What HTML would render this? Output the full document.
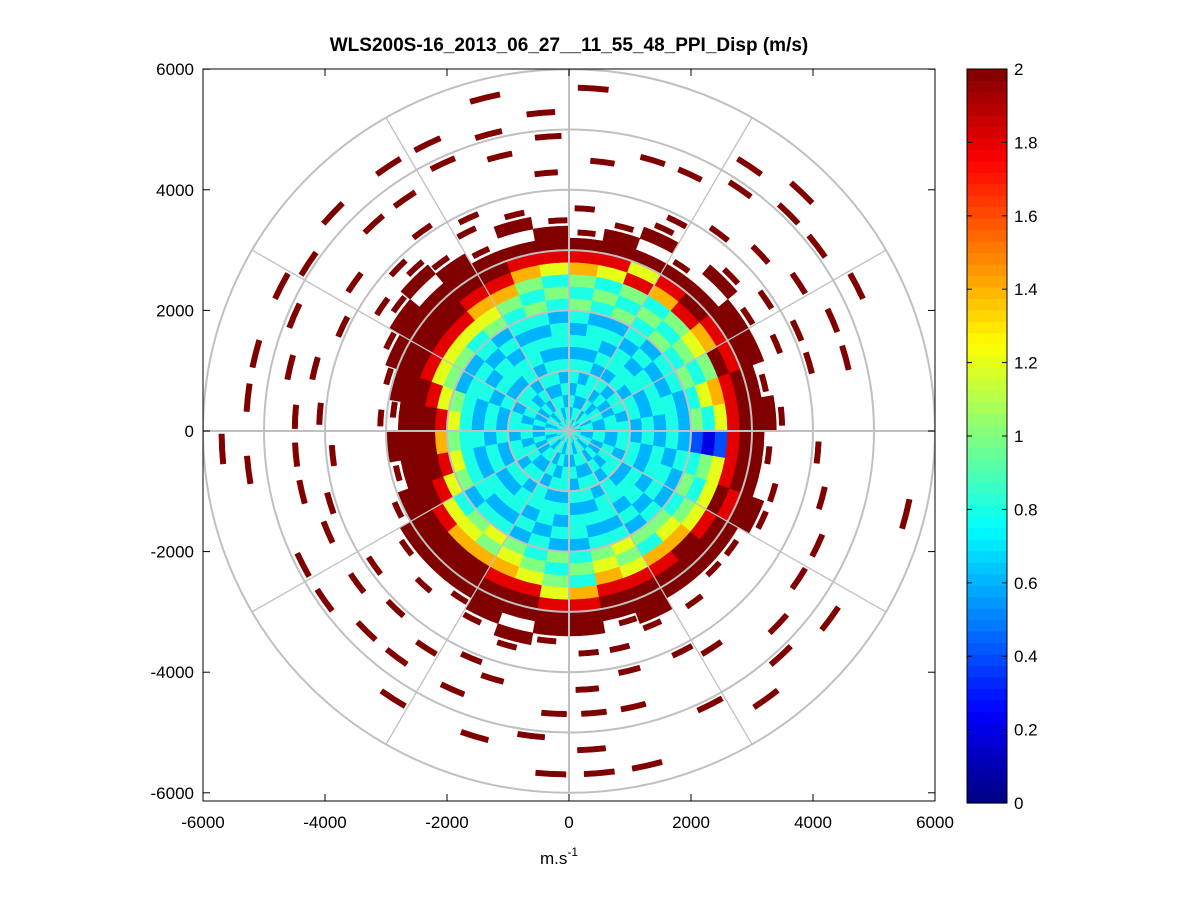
<!DOCTYPE html>
<html><head><meta charset="utf-8"><style>
body{margin:0;background:#fff;font-family:"Liberation Sans",sans-serif;}
svg text{font-family:"Liberation Sans",sans-serif;}
</style></head><body>
<svg id="chart" width="1201" height="901" viewBox="0 0 1201 901" xmlns="http://www.w3.org/2000/svg">
<rect width="1201" height="901" fill="#fff"/>
<defs><clipPath id="clip"><rect x="203" y="69" width="732" height="732"/></clipPath></defs>
<text x="569" y="51" text-anchor="middle" font-size="19" font-weight="bold" fill="#000">WLS200S-16_2013_06_27__11_55_48_PPI_Disp (m/s)</text>
<rect x="203" y="69" width="732" height="732" fill="#fff"/>
<g id="cells" clip-path="url(#clip)"></g>
<g id="grid" clip-path="url(#clip)"></g>
<rect x="203" y="69" width="732" height="732" fill="none" stroke="#000" stroke-width="1"/>
<g id="axes"></g>
<text x="540" y="864" font-size="17" fill="#000">m.s<tspan dy="-8" font-size="12">-1</tspan></text>
<g id="cbar"></g>
</svg>
<script>
// Data: 36 azimuth sectors (10° each, clockwise from north), 30 range bins of 200 m.
// char: '.'=empty, '0'..'9' -> value digit*0.2, 'a' -> 2.0 (full cell), 'd' -> 2.0 short dash
const sectorAz = [0,10,20,30,40,50,60,70,80,90,100,110,120,130,140,150,160,170,180,190,200,210,220,230,240,250,260,270,280,290,300,310,320,330,340,350];
const rangeBinM = 200;
const sectorRows = [
"4343443434"+"545"+"79"+"ad.d"+"...d.....d.",
"4434343443"+"454"+"69"+"aad."+"....d......",
"3434434343"+"545"+"96"+"a.ad"+"d...d......",
"4343434434"+"454"+"79"+"ad.."+".d...d.d...",
"4434344343"+"545"+"9a"+"a.ad"+"..d...d.d..",
"3443434434"+"456"+"79"+"aad."+"d..d..d....",
"4343443434"+"545"+"a9"+"aa.d"+".d..d..d...",
"4434343443"+"467"+"9a"+"ad.."+".d..d......",
"3434434343"+"546"+"9a"+"aad."+"...........",
"4343434343"+"212"+"9a"+"ad.."+".d.........",
"4343443434"+"456"+"9a"+"a.d."+"..d......d.",
"4434343443"+"546"+"a9"+"aad."+"...d.......",
"3434434343"+"456"+"9a"+"ad.."+"...d...d...",
"4343434434"+"567"+"aa"+"ad.."+"....d.d....",
"4434344343"+"547"+"9a"+"a.d."+"..d.....d..",
"3443434434"+"656"+"9a"+"aad."+".d....d....",
"4343443434"+"567"+"9a"+"ad.d"+".d..d....d.",
"4434343443"+"454"+"79"+"aa.d"+"..d.d..d.d.",
"3434434343"+"545"+"69"+"aad."+"....d.d..d.",
"4343434434"+"456"+"9a"+"a.ad"+"..d....d...",
"4434344343"+"567"+"9a"+"aad."+".d..d......",
"3443434434"+"657"+"aa"+"ad.."+"..d.d..d...",
"4343443434"+"567"+"aa"+"a.d."+".d..d......",
"4434343443"+"469"+"aa"+"ad.."+"d.d..d.....",
"3434434345"+"69a"+"aa"+"d..."+"..d..d.....",
"4343434346"+"9aa"+"ad"+"...."+".d.d.......",
"4434343445"+"7aa"+"aa"+"...."+"d..d...d.d.",
"3434434346"+"9aa"+"ad"+"d..."+".d.d...d...",
"4343434345"+"69a"+"aa"+"d..."+"..d.d..d...",
"4434343443"+"569"+"aa"+"ad.."+".d...d.d...",
"3434434343"+"569"+"aa"+"aadd"+"..d...d....",
"4343434434"+"469"+"aa"+"a.ad"+"d...d..d...",
"4434344343"+"567"+"9a"+"aad."+".d..d..d...",
"3443434434"+"457"+"9a"+"ad.d"+"d....d.d...",
"4343443434"+"545"+"79"+"a.ad"+"....d.d..d.",
"4434343443"+"454"+"69"+"aad."+"..d..d.d..."
];
const xTicks = [-6000,-4000,-2000,0,2000,4000,6000];
const yTicks = [6000,4000,2000,0,-2000,-4000,-6000];
const cbarTicks = [0,0.2,0.4,0.6,0.8,1,1.2,1.4,1.6,1.8,2];

const NS="http://www.w3.org/2000/svg";
const cx=569, cy=431, sx=0.061, sy=0.0603;
const X=v=>cx+v*sx, Y=v=>cy-v*sy;
function jet(t){t=Math.max(0,Math.min(1,t));
 const f=x=>Math.round(255*Math.max(0,Math.min(1,x)));
 return `rgb(${f(1.5-Math.abs(4*t-3))},${f(1.5-Math.abs(4*t-2))},${f(1.5-Math.abs(4*t-1))})`;}
function pt(r,az){const a=az*Math.PI/180;return [X(r*Math.sin(a)),Y(r*Math.cos(a))];}
function mk(tag,attrs,parent){const e=document.createElementNS(NS,tag);for(const k in attrs)e.setAttribute(k,attrs[k]);parent.appendChild(e);return e;}
const cells=document.getElementById('cells');
sectorRows.forEach((row,si)=>{
 for(let b=0;b<row.length;b++){
  const c=row[b]; if(c==='.')continue;
  let a0=sectorAz[si], a1=a0+10;
  let r0=b*rangeBinM, r1=(b+1)*rangeBinM;
  if(c==='d'){const span=Math.min(5,520/(r0+100)*57.3);const m=a0+5+((b*7+si*3)%5-2);a0=m-span/2;a1=m+span/2;r0+=50;r1-=60;}
  const v=(c==='a'||c==='d')?2:parseInt(c)*0.2;
  const p1=pt(r0,a0),p2=pt(r1,a0),p3=pt(r1,a1),p4=pt(r0,a1);
  const d=`M${p1}L${p2}A${r1*sx},${r1*sy} 0 0 1 ${p3}L${p4}A${r0*sx},${r0*sy} 0 0 0 ${p1}Z`;
  const e=mk('path',{d:d,fill:jet(v/2),stroke:jet(v/2),'stroke-width':0.5},cells);
  
  
 }
});
const grid=document.getElementById('grid');
for(let r=1000;r<=6000;r+=1000){
 const e=mk('ellipse',{cx:cx,cy:cy,rx:r*sx,ry:r*sy,fill:'none',stroke:'#c0c0c0','stroke-width':2},grid);
 
 
}
for(let a=0;a<360;a+=30){
 const p=pt(6000,a);
 const e=mk('line',{x1:cx,y1:cy,x2:p[0],y2:p[1],stroke:'#c0c0c0','stroke-width':(a%90===0?2:1.3)},grid);
 
 
}
const axes=document.getElementById('axes');
xTicks.forEach(v=>{
 const t=mk('text',{x:X(v),y:828,'text-anchor':'middle','font-size':17},axes);t.textContent=v;
 
 
 mk('line',{x1:X(v),y1:801,x2:X(v),y2:794,stroke:'#000'},axes);
 mk('line',{x1:X(v),y1:69,x2:X(v),y2:76,stroke:'#000'},axes);
});
yTicks.forEach(v=>{
 const t=mk('text',{x:194,y:Y(v)+6,'text-anchor':'end','font-size':17},axes);t.textContent=v;
 
 
 mk('line',{x1:203,y1:Y(v),x2:210,y2:Y(v),stroke:'#000'},axes);
 mk('line',{x1:935,y1:Y(v),x2:928,y2:Y(v),stroke:'#000'},axes);
});
const cb=document.getElementById('cbar');
const cbx=967,cbw=40,cbt=69,cbb=803,n=64,h=(cbb-cbt)/n;
for(let i=0;i<n;i++){
 const e=mk('rect',{x:cbx,y:cbb-(i+1)*h,width:cbw,height:h+0.6,fill:jet((i+0.5)/n)},cb);
 
 
}
mk('rect',{x:cbx,y:cbt,width:cbw,height:cbb-cbt,fill:'none',stroke:'#000'},cb);
cbarTicks.forEach(v=>{
 const y=cbb-(v/2)*(cbb-cbt);
 mk('line',{x1:cbx,y1:y,x2:cbx+5,y2:y,stroke:'#000'},cb);
 mk('line',{x1:cbx+cbw,y1:y,x2:cbx+cbw-5,y2:y,stroke:'#000'},cb);
 const t=mk('text',{x:1014,y:y+6,'font-size':17},cb);t.textContent=v;
 
 
});
</script>
</body></html>
